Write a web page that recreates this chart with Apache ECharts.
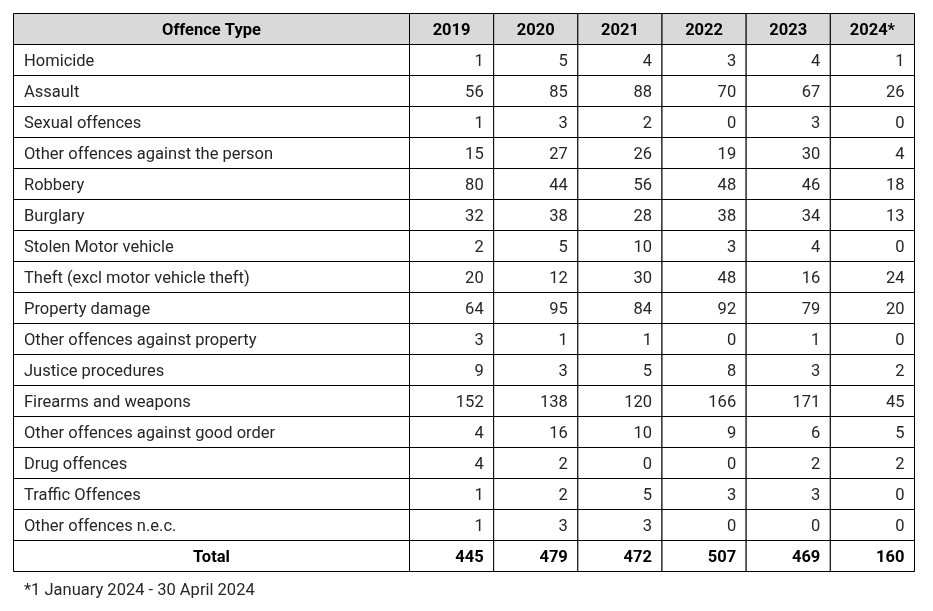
<!DOCTYPE html>
<html>
<head>
<meta charset="utf-8">
<script src="https://cdn.jsdelivr.net/npm/echarts@6/dist/echarts.min.js"></script>
<style>html,body{margin:0;padding:0;background:#fff;}#chart{width:933px;height:611px;}</style>
</head>
<body>
<div id="chart"></div>
<script>
const headerLabel = 'Offence Type';
const totalLabel = 'Total';
const years = ['2019', '2020', '2021', '2022', '2023', '2024*'];
const offences = [
  'Homicide', 'Assault', 'Sexual offences', 'Other offences against the person',
  'Robbery', 'Burglary', 'Stolen Motor vehicle', 'Theft (excl motor vehicle theft)',
  'Property damage', 'Other offences against property', 'Justice procedures',
  'Firearms and weapons', 'Other offences against good order', 'Drug offences',
  'Traffic Offences', 'Other offences n.e.c.'
];
const v2019 = [1, 56, 1, 15, 80, 32, 2, 20, 64, 3, 9, 152, 4, 4, 1, 1];
const v2020 = [5, 85, 3, 27, 44, 38, 5, 12, 95, 1, 3, 138, 16, 2, 2, 3];
const v2021 = [4, 88, 2, 26, 56, 28, 10, 30, 84, 1, 5, 120, 10, 0, 5, 3];
const v2022 = [3, 70, 0, 19, 48, 38, 3, 48, 92, 0, 8, 166, 9, 0, 3, 0];
const v2023 = [4, 67, 3, 30, 46, 34, 4, 16, 79, 1, 3, 171, 6, 2, 3, 0];
const v2024 = [1, 26, 0, 4, 18, 13, 0, 24, 20, 0, 2, 45, 5, 2, 0, 0];
const totals = [445, 479, 472, 507, 469, 160];
const footnote = '*1 January 2024 - 30 April 2024';

const yearValues = [v2019, v2020, v2021, v2022, v2023, v2024];
const rows = [headerLabel].concat(offences, [totalLabel]);
const lastRow = rows.length - 1;

const labelData = rows.map((r, i) => [0, i, r]);
const valueData = [];
years.forEach((y, c) => {
  valueData.push([c, 0, y]);
  yearValues[c].forEach((v, r) => valueData.push([c, r + 1, String(v)]));
  valueData.push([c, lastRow, String(totals[c])]);
});

const FONT = 'Roboto, "Noto Sans", sans-serif';
const FS = 16.5;

function makeRender(isLabel) {
  return function (params, api) {
    const col = api.value(0), row = api.value(1);
    const text = isLabel ? labelData[params.dataIndex][2] : valueData[params.dataIndex][2];
    const c = api.coord([col, row]);
    const s = api.size([1, 1]);
    const x = c[0] - s[0] / 2, y = c[1] - s[1] / 2;
    const isHeader = row === 0;
    const isTotal = row === lastRow;
    let align, tx;
    if (isHeader || (isLabel && isTotal)) { align = 'center'; tx = c[0]; }
    else if (isLabel) { align = 'left'; tx = x + 10.5; }
    else { align = 'right'; tx = x + s[0] - 10; }
    const bold = isHeader || isTotal;
    return {
      type: 'group',
      children: [
        { type: 'rect', shape: { x: x, y: y, width: s[0], height: s[1] },
          style: { fill: isHeader ? '#d9d9d9' : '#ffffff', stroke: '#000', lineWidth: 1 } },
        { type: 'text', style: {
            text: text, x: tx, y: c[1] + 1.5, align: align, verticalAlign: 'middle',
            fontFamily: FONT, fontSize: FS, fontWeight: bold ? 'bold' : 'normal',
            fill: bold ? '#000' : '#262626' } }
      ]
    };
  };
}

const chart = echarts.init(document.getElementById('chart'), null, { renderer: 'canvas' });
const yAxisBase = { type: 'category', data: rows, inverse: true, show: false, boundaryGap: true };
chart.setOption({
  animation: false,
  title: { text: footnote, left: 19, top: 577,
    textStyle: { fontFamily: FONT, fontSize: FS, fontWeight: 'normal', color: '#262626' } },
  grid: [
    { left: 13.5, top: 13.5, width: 396, height: 558 },
    { left: 409.5, top: 13.5, width: 505, height: 558 }
  ],
  xAxis: [
    { type: 'category', gridIndex: 0, data: [headerLabel], show: false },
    { type: 'category', gridIndex: 1, data: years, show: false }
  ],
  yAxis: [
    Object.assign({ gridIndex: 0 }, yAxisBase),
    Object.assign({ gridIndex: 1 }, yAxisBase)
  ],
  series: [
    { type: 'custom', xAxisIndex: 0, yAxisIndex: 0, data: labelData,
      renderItem: makeRender(true), encode: { x: 0, y: 1 } },
    { type: 'custom', xAxisIndex: 1, yAxisIndex: 1, data: valueData,
      renderItem: makeRender(false), encode: { x: 0, y: 1 } }
  ]
});
</script>
</body>
</html>
